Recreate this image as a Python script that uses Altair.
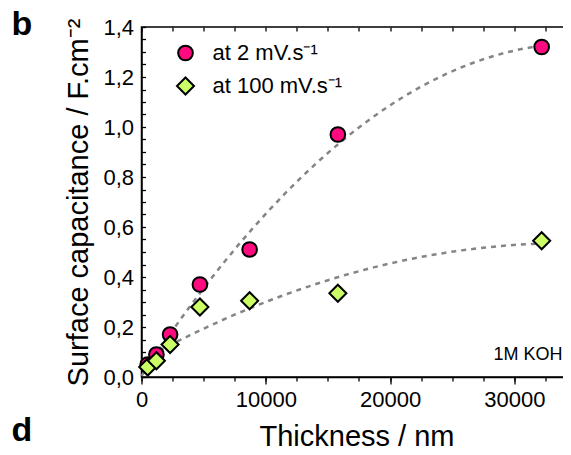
import altair as alt
import pandas as pd

# ---- data ----
thickness = [500, 1200, 2300, 4700, 8700, 15800, 32200]
cap_2mV = [0.05, 0.09, 0.17, 0.37, 0.51, 0.97, 1.32]
cap_100mV = [0.04, 0.065, 0.13, 0.28, 0.305, 0.335, 0.545]
series_names = ["at 2 mV.s⁻¹", "at 100 mV.s⁻¹"]
series_colors = ["#FF0A7F", "#CCFF66"]
series_edges = ["black", "black"]
series_shapes = ["circle", "diamond"]
series_sizes = [215, 290]

x_labels = [0, 10000, 20000, 30000]
x_ticks = list(range(0, 32501, 2500))
y_major = [round(i * 0.2, 1) for i in range(8)]
y_minor = [round(i * 0.05, 2) for i in range(29)]

rows = []
for name, vals in zip(series_names, [cap_2mV, cap_100mV]):
    for t, v in zip(thickness, vals):
        rows.append({"series": name, "thickness": t, "cap": v})
df = pd.DataFrame(rows)

FONT = "Liberation Sans"
xscale = alt.Scale(domain=[0, 34600], nice=False, zero=False)
yscale = alt.Scale(domain=[0, 1.4], nice=False, zero=False)

legend = alt.Legend(
    orient="none", legendX=33, legendY=15, title=None,
    labelFont=FONT, labelFontSize=22, labelColor="black",
    symbolStrokeColor="black", symbolStrokeWidth=2, symbolOpacity=1,
    rowPadding=8, labelOffset=16, padding=0,
)

base = alt.Chart(df)

# regression (fit) curves, with main bottom/left axes
fits = base.transform_regression(
    "thickness", "cap", method="poly", order=2, groupby=["series"], extent=[0, 32200]
).mark_line(color="#858585", strokeWidth=2.5, strokeDash=[5, 5]).encode(
    x=alt.X("thickness:Q", scale=xscale,
            axis=alt.Axis(orient="bottom", values=x_labels, tickSize=7, tickWidth=1.3,
                          format="d", labelFlush=False, labelOverlap=False,
                          labelBaseline="alphabetic", labelPadding=22.5,
                          title="Thickness / nm", titleBaseline="alphabetic", titleY=68)),
    y=alt.Y("cap:Q", scale=yscale,
            axis=alt.Axis(orient="left", values=y_major, ticks=False,
                          labelExpr="replace(format(datum.value, '.1f'), '.', ',')",
                          labelFlush=False, labelOverlap=False, labelPadding=8,
                          title="Surface capacitance / F.cm⁻²", titleBaseline="alphabetic",
                          titleX=-54.5)),
    detail="series:N",
)

# data points, with inward tick-only axes on top and left
points = base.mark_point(filled=True, strokeWidth=2, opacity=1).encode(
    x=alt.X("thickness:Q", scale=xscale,
            axis=alt.Axis(orient="top", values=x_ticks, tickSize=4, tickWidth=1.3,
                          labels=False, domain=False, title=None, offset=-4)),
    y=alt.Y("cap:Q", scale=yscale,
            axis=alt.Axis(orient="left", values=y_minor, tickSize=4, tickWidth=1.3,
                          labels=False, domain=False, title=None, offset=-4)),
    fill=alt.Fill("series:N", scale=alt.Scale(domain=series_names, range=series_colors), legend=legend),
    stroke=alt.Stroke("series:N", scale=alt.Scale(domain=series_names, range=series_edges), legend=legend),
    shape=alt.Shape("series:N", scale=alt.Scale(domain=series_names, range=series_shapes), legend=legend),
    size=alt.Size("series:N", scale=alt.Scale(domain=series_names, range=series_sizes), legend=legend),
    order=alt.Order("order_idx:Q"),
).transform_calculate(order_idx="datum.series == '%s' ? 0 : 1" % series_names[0])

# right inward ticks and bottom minor ticks
extra_ticks = base.mark_point(opacity=0).encode(
    x=alt.X("thickness:Q", scale=xscale,
            axis=alt.Axis(orient="bottom", values=x_ticks, tickSize=4, tickWidth=1.3,
                          labels=False, domain=False, title=None)),
    y=alt.Y("cap:Q", scale=yscale,
            axis=alt.Axis(orient="right", values=y_major, tickSize=4, tickWidth=1.3,
                          labels=False, domain=False, title=None, offset=-4)),
)

koh = alt.Chart(pd.DataFrame({"t": ["1M KOH"]})).mark_text(
    font=FONT, fontSize=18, align="right", baseline="alphabetic", color="black"
).encode(text="t:N", x=alt.value(421), y=alt.value(333))

panel_b = alt.Chart(pd.DataFrame({"t": ["b"]})).mark_text(
    font=FONT, fontSize=34, fontWeight="bold", align="left", baseline="alphabetic", color="black"
).encode(text="t:N", x=alt.value(-130), y=alt.value(8))

panel_d = alt.Chart(pd.DataFrame({"t": ["d"]})).mark_text(
    font=FONT, fontSize=34, fontWeight="bold", align="left", baseline="alphabetic", color="black"
).encode(text="t:N", x=alt.value(-130), y=alt.value(414))

chart = alt.layer(fits, points, extra_ticks, koh, panel_b, panel_d).resolve_axis(
    x="independent", y="independent"
).properties(
    width=430, height=350,
    autosize=alt.AutoSizeParams(type="none"),
    padding={"left": 133.5, "top": 19, "right": -8.5, "bottom": 70},
).configure_view(
    stroke="black", strokeWidth=1.5
).configure_axis(
    labelFont=FONT, labelFontSize=22, labelColor="black",
    titleFont=FONT, titleFontSize=29, titleFontWeight="normal", titleColor="black",
    domainColor="black", domainWidth=1.5, tickColor="black", grid=False,
)

chart.save("out.html", embed_options={"renderer": "svg", "actions": False})
